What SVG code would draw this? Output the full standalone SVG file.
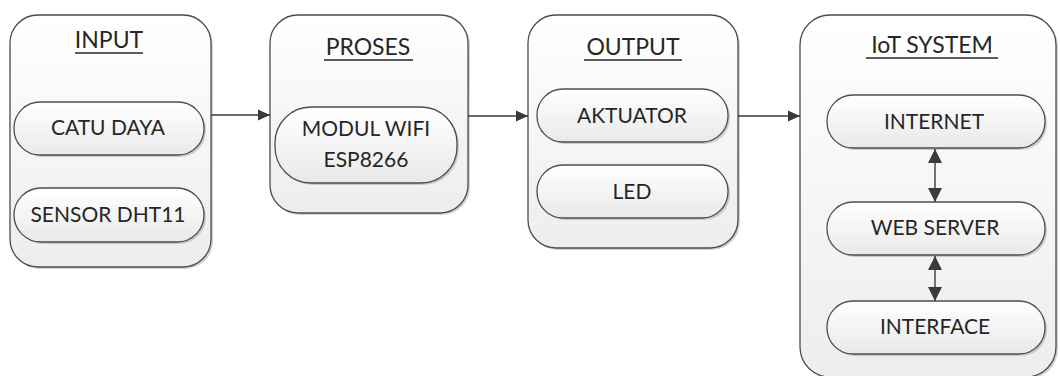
<svg xmlns="http://www.w3.org/2000/svg" width="1060" height="376" viewBox="0 0 1060 376">
  <style>
    .box { fill: url(#boxFill); stroke: #4d4d4d; stroke-width: 1.3; }
    .pill { fill: url(#pillFill); stroke: #4d4d4d; stroke-width: 1.3; }
    .shadow { fill: #9a9a9a; opacity: 0.45; }
    .title { font-family: Lato, "Liberation Sans", sans-serif; font-size: 23px; fill: #262626; text-anchor: middle; }
    .label { font-family: Lato, "Liberation Sans", sans-serif; font-size: 21px; fill: #262626; text-anchor: middle; }
    .uline { stroke: #262626; stroke-width: 1.6; }
    .conn { stroke: #3a3a3a; stroke-width: 1.4; fill: none; }
  </style>
  <defs>
    <linearGradient id="boxFill" x1="0" y1="0" x2="0" y2="1">
      <stop offset="0" stop-color="#ffffff"/>
      <stop offset="1" stop-color="#ededed"/>
    </linearGradient>
    <linearGradient id="pillFill" x1="0" y1="0" x2="0" y2="1">
      <stop offset="0" stop-color="#ffffff"/>
      <stop offset="1" stop-color="#e9e9e9"/>
    </linearGradient>
    <!-- flow arrowhead -->
    <marker id="arrowEnd" markerUnits="userSpaceOnUse" markerWidth="14" markerHeight="12" refX="12" refY="6" orient="auto">
      <path d="M0,0.5 L12,6 L0,11.5 Z" fill="#3a3a3a"/>
    </marker>
    <!-- larger heads for the two-way links -->
    <marker id="biEnd" markerUnits="userSpaceOnUse" markerWidth="16" markerHeight="16" refX="14" refY="8" orient="auto">
      <path d="M0,1 L14,8 L0,15 Z" fill="#3a3a3a"/>
    </marker>
    <marker id="biStart" markerUnits="userSpaceOnUse" markerWidth="16" markerHeight="16" refX="0" refY="8" orient="auto">
      <path d="M14,1 L0,8 L14,15 Z" fill="#3a3a3a"/>
    </marker>
  </defs>

  <rect width="1060" height="376" fill="#ffffff"/>

  <!-- INPUT group -->
  <g id="input">
    <rect class="shadow" x="12" y="17" width="201" height="252" rx="28"/>
    <rect class="box" x="10" y="15" width="201" height="252" rx="28"/>
    <text class="title" x="109" y="48">INPUT</text>
    <line class="uline" x1="75" y1="53" x2="143" y2="53"/>
  </g>
  <g id="catu-daya">
    <rect class="shadow" x="16" y="104" width="190" height="53" rx="26"/>
    <rect class="pill" x="14" y="102" width="190" height="53" rx="26"/>
    <text class="label" x="108" y="135">CATU DAYA</text>
  </g>
  <g id="sensor-dht11">
    <rect class="shadow" x="16" y="190" width="190" height="54" rx="27"/>
    <rect class="pill" x="14" y="188" width="190" height="54" rx="27"/>
    <text class="label" x="108" y="222">SENSOR DHT11</text>
  </g>

  <!-- PROSES group -->
  <g id="proses">
    <rect class="shadow" x="272" y="17" width="198" height="198" rx="28"/>
    <rect class="box" x="270" y="15" width="198" height="198" rx="28"/>
    <text class="title" x="368" y="55">PROSES</text>
    <line class="uline" x1="324" y1="60" x2="413" y2="60"/>
  </g>
  <g id="modul-wifi">
    <rect class="shadow" x="277" y="109" width="182" height="76" rx="36"/>
    <rect class="pill" x="275" y="107" width="182" height="76" rx="36"/>
    <text class="label" x="366" y="136">MODUL WIFI</text>
    <text class="label" x="366" y="167">ESP8266</text>
  </g>

  <!-- OUTPUT group -->
  <g id="output">
    <rect class="shadow" x="530" y="17" width="210" height="233" rx="28"/>
    <rect class="box" x="528" y="15" width="210" height="233" rx="28"/>
    <text class="title" x="633" y="55">OUTPUT</text>
    <line class="uline" x1="584" y1="60" x2="682" y2="60"/>
  </g>
  <g id="aktuator">
    <rect class="shadow" x="539" y="91" width="191" height="53" rx="26"/>
    <rect class="pill" x="537" y="89" width="191" height="53" rx="26"/>
    <text class="label" x="632" y="123">AKTUATOR</text>
  </g>
  <g id="led">
    <rect class="shadow" x="539" y="167" width="191" height="53" rx="26"/>
    <rect class="pill" x="537" y="165" width="191" height="53" rx="26"/>
    <text class="label" x="632" y="199">LED</text>
  </g>

  <!-- IoT SYSTEM group -->
  <g id="iot-system">
    <rect class="shadow" x="802" y="17" width="256" height="362" rx="30"/>
    <rect class="box" x="800" y="15" width="256" height="362" rx="30"/>
    <text class="title" x="932" y="53">IoT SYSTEM</text>
    <line class="uline" x1="866" y1="58" x2="998" y2="58"/>
  </g>
  <g id="internet">
    <rect class="shadow" x="829" y="97" width="218" height="53" rx="26"/>
    <rect class="pill" x="827" y="95" width="218" height="53" rx="26"/>
    <text class="label" x="934" y="129">INTERNET</text>
  </g>
  <g id="web-server">
    <rect class="shadow" x="829" y="204" width="218" height="53" rx="26"/>
    <rect class="pill" x="827" y="202" width="218" height="53" rx="26"/>
    <text class="label" x="935" y="235">WEB SERVER</text>
  </g>
  <g id="interface">
    <rect class="shadow" x="829" y="303" width="218" height="53" rx="26"/>
    <rect class="pill" x="827" y="301" width="218" height="53" rx="26"/>
    <text class="label" x="935" y="334">INTERFACE</text>
  </g>

  <!-- connectors -->
  <g id="connectors">
    <line class="conn" x1="211" y1="115" x2="270" y2="115" marker-end="url(#arrowEnd)"/>
    <line class="conn" x1="468" y1="116" x2="528" y2="116" marker-end="url(#arrowEnd)"/>
    <line class="conn" x1="738" y1="116" x2="800" y2="116" marker-end="url(#arrowEnd)"/>
    <line class="conn" x1="935" y1="149" x2="935" y2="202" marker-start="url(#biStart)" marker-end="url(#biEnd)"/>
    <line class="conn" x1="935" y1="256" x2="935" y2="301" marker-start="url(#biStart)" marker-end="url(#biEnd)"/>
  </g>
</svg>
